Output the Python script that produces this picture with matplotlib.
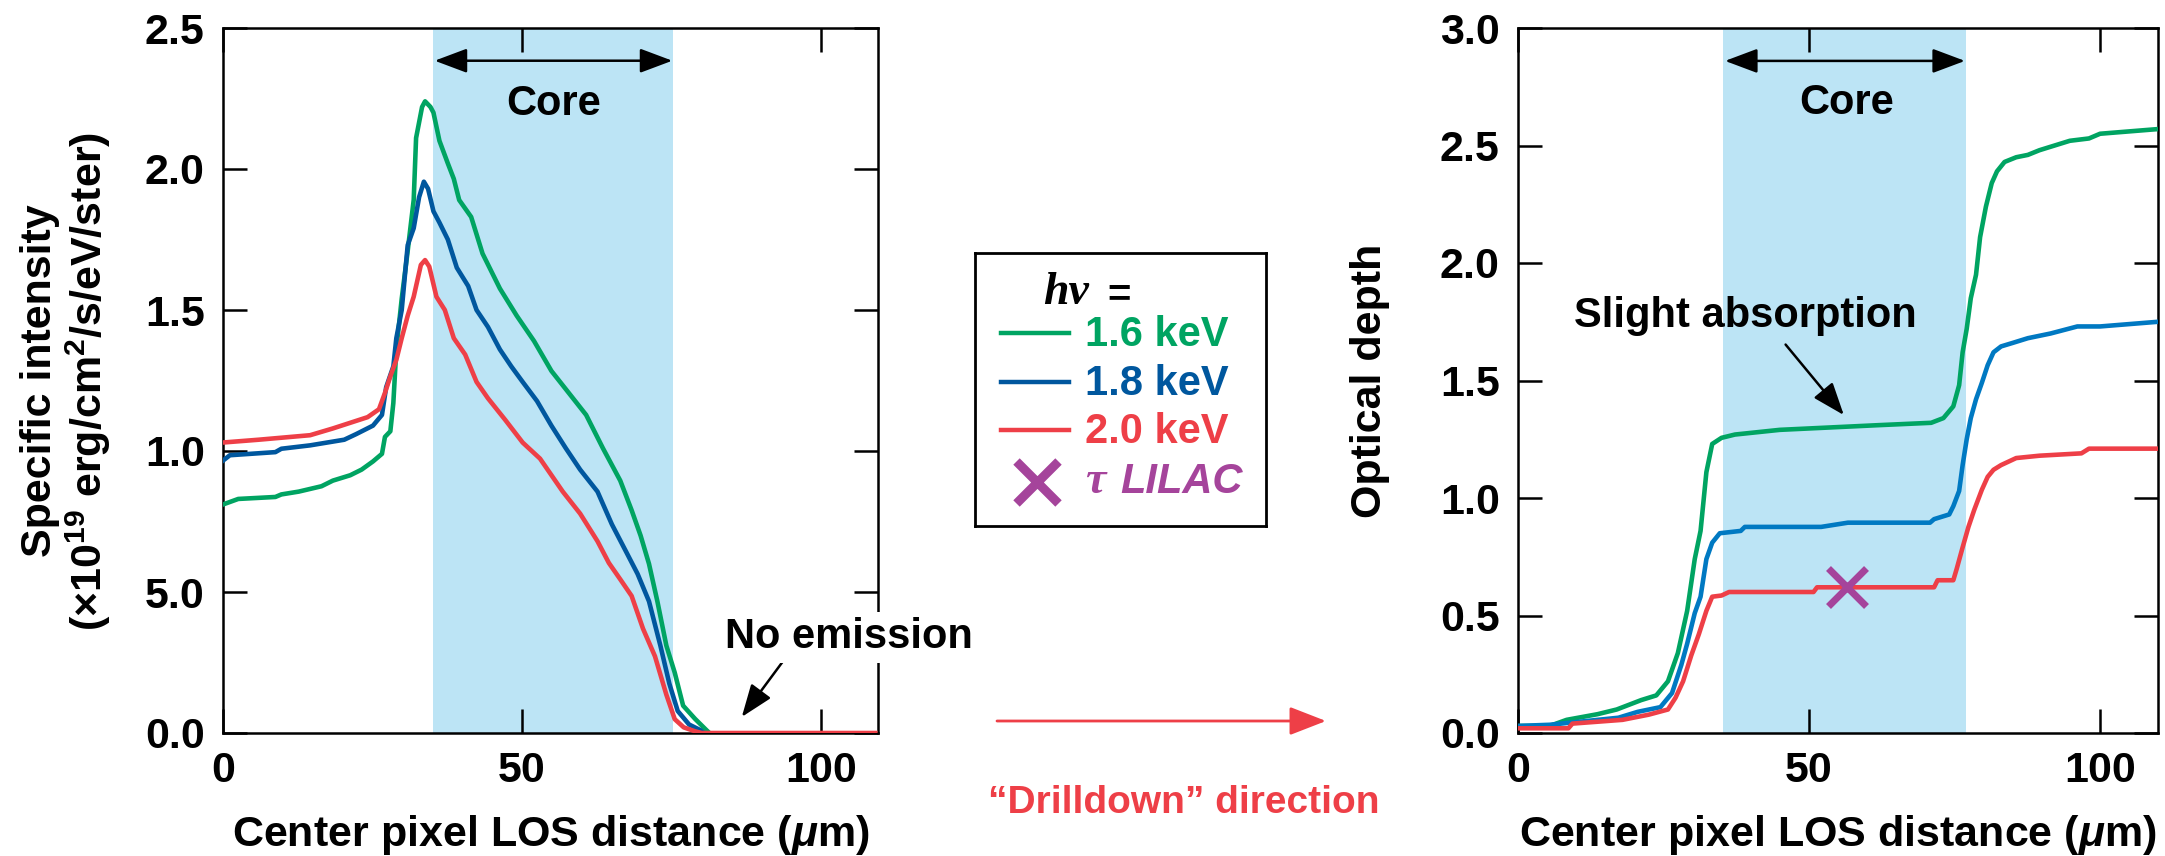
import matplotlib
matplotlib.use('Agg')
import matplotlib.pyplot as plt

plt.rcParams['font.family'] = ['Liberation Sans', 'DejaVu Sans']
plt.rcParams['font.weight'] = 'bold'
plt.rcParams['axes.labelweight'] = 'bold'
plt.rcParams['mathtext.fontset'] = 'custom'
plt.rcParams['mathtext.rm'] = 'Liberation Sans:bold'
plt.rcParams['mathtext.it'] = 'Liberation Sans:bold:italic'
plt.rcParams['mathtext.bf'] = 'Liberation Sans:bold'

# ---------------- data ----------------
# Left panel: specific intensity (x10^19 erg/cm2/s/eV/ster)
int_x_16 = [0, 2.6, 8.8, 9.8, 12.7, 16.5, 18.4, 21.3, 23.2, 25.1, 26.6, 27.1, 28.0, 28.5, 29.0,
            29.9, 30.9, 31.9, 32.3, 33.3, 33.8, 34.7, 35.2, 36.2, 37.6, 38.6, 39.5, 41.5, 43.4,
            46.3, 49.1, 52.0, 54.9, 57.8, 60.7, 63.5, 66.4, 68.3, 69.8, 71.2, 72.6, 74.1, 75.5,
            76.9, 78.9, 80.8, 81.3]
int_y_16 = [0.81, 0.83, 0.837, 0.846, 0.856, 0.875, 0.895, 0.914, 0.934, 0.963, 0.99, 1.05, 1.07,
            1.17, 1.36, 1.54, 1.71, 1.89, 2.11, 2.22, 2.24, 2.22, 2.20, 2.10, 2.02, 1.965, 1.89,
            1.83, 1.70, 1.576, 1.48, 1.39, 1.284, 1.206, 1.128, 1.01, 0.895, 0.79, 0.70, 0.60,
            0.467, 0.31, 0.214, 0.097, 0.05, 0.01, 0.0]

int_x_18 = [0, 1.2, 8.8, 9.8, 14.6, 20.3, 22.3, 25.1, 26.6, 27.3, 28.5, 29.0, 29.9, 30.9, 31.9,
            32.8, 33.6, 34.3, 35.2, 36.2, 37.6, 39.1, 41.0, 42.4, 44.3, 46.3, 48.2, 50.1, 52.5,
            54.9, 57.3, 59.7, 62.6, 65.0, 67.4, 69.3, 71.2, 73.1, 74.6, 76.0, 77.9, 79.8, 80.3]
int_y_18 = [0.965, 0.985, 0.996, 1.008, 1.02, 1.04, 1.06, 1.09, 1.128, 1.226, 1.30, 1.40, 1.50,
            1.73, 1.79, 1.90, 1.955, 1.93, 1.85, 1.81, 1.75, 1.65, 1.585, 1.50, 1.44, 1.36, 1.30,
            1.245, 1.177, 1.09, 1.01, 0.934, 0.856, 0.74, 0.642, 0.564, 0.467, 0.31, 0.175,
            0.078, 0.03, 0.01, 0.0]

int_x_20 = [0, 6.0, 14.6, 18.4, 21.3, 24.2, 26.1, 27.1, 28.0, 29.0, 29.9, 30.9, 31.9, 33.1, 33.8,
            34.5, 35.7, 37.1, 38.6, 40.5, 42.4, 44.3, 47.2, 50.1, 53.0, 56.8, 59.7, 62.6, 64.5,
            66.4, 68.3, 70.2, 72.2, 74.1, 75.5, 77.0, 78.9, 80.0, 109.0]
int_y_20 = [1.03, 1.04, 1.056, 1.08, 1.10, 1.12, 1.148, 1.206, 1.265, 1.323, 1.40, 1.48, 1.547,
            1.66, 1.677, 1.654, 1.547, 1.50, 1.40, 1.342, 1.245, 1.187, 1.11, 1.03, 0.973, 0.856,
            0.778, 0.68, 0.603, 0.545, 0.486, 0.37, 0.272, 0.136, 0.049, 0.02, 0.006, 0.0, 0.0]

# Right panel: optical depth
tau_x_16 = [0, 5.5, 8.4, 13.7, 17.0, 21.2, 23.8, 25.8, 27.5, 29.1, 30.4, 31.4, 32.4, 33.4, 35.0,
            37.3, 45.0, 62.0, 71.0, 73.1, 74.8, 75.8, 76.4, 77.1, 77.8, 78.7, 79.4, 80.4, 81.4,
            82.3, 83.6, 85.6, 87.6, 89.6, 92.2, 94.8, 98.1, 100.0, 110.0]
tau_y_16 = [0.03, 0.03, 0.056, 0.08, 0.10, 0.14, 0.16, 0.22, 0.34, 0.52, 0.74, 0.86, 1.11, 1.23,
            1.256, 1.27, 1.29, 1.31, 1.32, 1.34, 1.39, 1.48, 1.62, 1.72, 1.85, 1.95, 2.11, 2.24,
            2.34, 2.39, 2.43, 2.45, 2.46, 2.48, 2.50, 2.52, 2.53, 2.55, 2.57]

tau_x_18 = [0, 5.5, 17.3, 20.6, 24.5, 26.5, 28.1, 29.1, 30.4, 31.4, 32.4, 33.4, 34.7, 38.3, 39.0,
            52.1, 56.7, 70.8, 71.5, 74.1, 74.8, 75.8, 76.4, 77.1, 77.8, 78.7, 79.7, 80.7, 81.7,
            83.0, 85.0, 87.6, 91.5, 96.1, 100.0, 110.0]
tau_y_18 = [0.03, 0.035, 0.065, 0.09, 0.11, 0.17, 0.29, 0.38, 0.51, 0.58, 0.74, 0.81, 0.85, 0.86,
            0.877, 0.877, 0.895, 0.895, 0.91, 0.93, 0.965, 1.03, 1.14, 1.25, 1.34, 1.42, 1.49,
            1.565, 1.62, 1.645, 1.66, 1.68, 1.70, 1.73, 1.73, 1.75]

tau_x_20 = [0, 8.7, 9.4, 18.0, 22.5, 25.8, 27.1, 28.4, 29.8, 31.1, 32.4, 33.4, 35.0, 36.3, 50.8,
            51.4, 71.5, 72.1, 74.8, 75.4, 76.4, 77.4, 78.4, 79.7, 80.7, 81.7, 83.0, 85.6, 89.6,
            96.8, 98.1, 110.0]
tau_y_20 = [0.02, 0.02, 0.04, 0.056, 0.078, 0.10, 0.15, 0.22, 0.33, 0.42, 0.52, 0.58, 0.585, 0.60,
            0.60, 0.62, 0.62, 0.65, 0.65, 0.70, 0.79, 0.877, 0.95, 1.035, 1.09, 1.12, 1.14, 1.17,
            1.18, 1.19, 1.21, 1.21]

lilac_x = [56.5]
lilac_y = [0.62]

int_yticks = [0.0, 0.5, 1.0, 1.5, 2.0, 2.5]
int_yticklabels = ['0.0', '5.0', '1.0', '1.5', '2.0', '2.5']
tau_yticks = [0.0, 0.5, 1.0, 1.5, 2.0, 2.5, 3.0]
tau_yticklabels = ['0.0', '0.5', '1.0', '1.5', '2.0', '2.5', '3.0']
xticks = [0, 50, 100]

core_left = (35.2, 75.2)
core_right = (35.3, 77.0)

# ---------------- style ----------------
GREEN = '#00A462'
BLUE_D = '#00579E'
BLUE_L = '#0079C2'
RED = '#EE3F47'
PURPLE = '#A5449B'
SHADE = '#BCE4F5'
FS_AX = 31
FS_TX = 30
LW = 3.3

W, H = 2165, 856
fig = plt.figure(figsize=(W / 100, H / 100), dpi=100)

bg = fig.add_axes([0, 0, 1, 1], zorder=-5)
bg.set_xlim(0, W)
bg.set_ylim(H, 0)
bg.axis('off')


def px_axes(x0, y0, x1, y1, **kw):
    return fig.add_axes([x0 / W, 1 - y1 / H, (x1 - x0) / W, (y1 - y0) / H], **kw)


ax1 = px_axes(222.7, 28, 878.3, 733)
ax2 = px_axes(1517.7, 28, 2158.3, 733)

for ax in (ax1, ax2):
    ax.tick_params(direction='in', length=17, width=1.8, top=True, right=True,
                   labelsize=FS_AX)
    ax.tick_params(axis='x', pad=13)
    ax.tick_params(axis='y', pad=13)
    for s in ax.spines.values():
        s.set_linewidth(1.8)
    ax.set_xticks(xticks)
    ax.set_xlabel(r'Center pixel LOS distance ($\mu$m)', fontsize=FS_AX, labelpad=16)

arrow_kw = dict(color='black', lw=1.8, mutation_scale=25, shrinkA=0, shrinkB=0)

# Left panel
ax1.axvspan(*core_left, color=SHADE, lw=0, zorder=0)
ax1.plot(int_x_16, int_y_16, color=GREEN, lw=LW, zorder=3)
ax1.plot(int_x_18, int_y_18, color=BLUE_D, lw=LW, zorder=3)
ax1.plot(int_x_20, int_y_20, color=RED, lw=LW, zorder=3)
ax1.set_xlim(0, 109.5)
ax1.set_ylim(0, 2.5)
ax1.set_yticks(int_yticks)
ax1.set_yticklabels(int_yticklabels)
ax1.annotate('', xy=(core_left[0] + 0.2, 2.384), xytext=(core_left[1] - 0.1, 2.384),
             arrowprops=dict(arrowstyle='<|-|>,head_length=0.8,head_width=0.3', **arrow_kw))
ax1.text(55.3, 2.232, 'Core', ha='center', va='center', fontsize=FS_TX)
ax1.annotate('', xy=(86.7, 0.057), xytext=(93.5, 0.252),
             arrowprops=dict(arrowstyle='-|>,head_length=0.8,head_width=0.3', **arrow_kw))
ax1.text(104.6, 0.34, 'No emission', ha='center', va='center', fontsize=FS_TX,
         zorder=10, clip_on=False,
         bbox=dict(facecolor='white', edgecolor='none', pad=4))

# Right panel
ax2.axvspan(*core_right, color=SHADE, lw=0, zorder=0)
ax2.plot(tau_x_16, tau_y_16, color=GREEN, lw=LW, zorder=3)
ax2.plot(tau_x_18, tau_y_18, color=BLUE_L, lw=LW, zorder=3)
ax2.plot(tau_x_20, tau_y_20, color=RED, lw=LW, zorder=3)
ax2.plot(lilac_x, lilac_y, ls='none', marker='x', ms=27, mew=5, color=PURPLE, zorder=4)
ax2.set_xlim(0, 110)
ax2.set_ylim(0, 3.0)
ax2.set_yticks(tau_yticks)
ax2.set_yticklabels(tau_yticklabels)
ax2.annotate('', xy=(core_right[0] + 0.3, 2.86), xytext=(core_right[1] - 0.2, 2.86),
             arrowprops=dict(arrowstyle='<|-|>,head_length=0.8,head_width=0.3', **arrow_kw))
ax2.text(56.5, 2.68, 'Core', ha='center', va='center', fontsize=FS_TX)
ax2.text(39.1, 1.775, 'Slight absorption', ha='center', va='center', fontsize=FS_TX)
ax2.annotate('', xy=(56.0, 1.353), xytext=(46.0, 1.653),
             arrowprops=dict(arrowstyle='-|>,head_length=0.8,head_width=0.3', **arrow_kw))

# Y labels
fig.text(40 / W, 1 - 381 / H, 'Specific intensity', rotation=90, ha='center', va='center',
         fontsize=FS_AX)
fig.text(88 / W, 1 - 381 / H, r'(×10$^{19}$ erg/cm$^{2}$/s/eV/ster)', rotation=90,
         ha='center', va='center', fontsize=FS_AX)
fig.text(1370 / W, 1 - 381 / H, 'Optical depth', rotation=90, ha='center', va='center',
         fontsize=FS_AX)

# Drilldown arrow
bg.annotate('', xy=(1326, 721), xytext=(997, 721),
            arrowprops=dict(arrowstyle='-|>,head_length=0.9,head_width=0.35',
                            color=RED, lw=2.0, mutation_scale=25, shrinkA=0, shrinkB=0))
bg.text(1184, 803, '\u201cDrilldown\u201d direction', color=RED, ha='center', va='center',
        fontsize=28)

# Legend box
lx0, ly0, lx1, ly1 = 975, 253, 1266, 526
lax = px_axes(lx0, ly0, lx1, ly1)
lax.set_xlim(0, lx1 - lx0)
lax.set_ylim(ly1 - ly0, 0)
lax.set_xticks([])
lax.set_yticks([])
for s in lax.spines.values():
    s.set_linewidth(2.0)
lax.text(68, 40, 'h\u03bd', fontfamily='Liberation Serif', style='italic', fontweight='bold',
         fontsize=33, ha='left', va='center')
lax.text(132, 42, '=', fontsize=29, ha='left', va='center')
leg_colors = [GREEN, BLUE_D, RED]
leg_labels = ['1.6 keV', '1.8 keV', '2.0 keV']
leg_y = [82, 131, 179]
for c, lab, yy in zip(leg_colors, leg_labels, leg_y):
    lax.plot([26, 94], [yy - 2, yy - 2], color=c, lw=3.2)
    lax.text(110, yy, lab, color=c, fontsize=30, ha='left', va='center')
lax.plot([62], [229], marker='x', ms=30, mew=6.5, color=PURPLE)
lax.text(110, 229, '\u03c4', fontfamily='Liberation Serif', style='italic', color=PURPLE,
         fontsize=33, ha='left', va='center')
lax.text(145, 229, 'LILAC', style='italic', color=PURPLE, fontsize=30, ha='left', va='center')

fig.savefig('out.png', dpi=100)
